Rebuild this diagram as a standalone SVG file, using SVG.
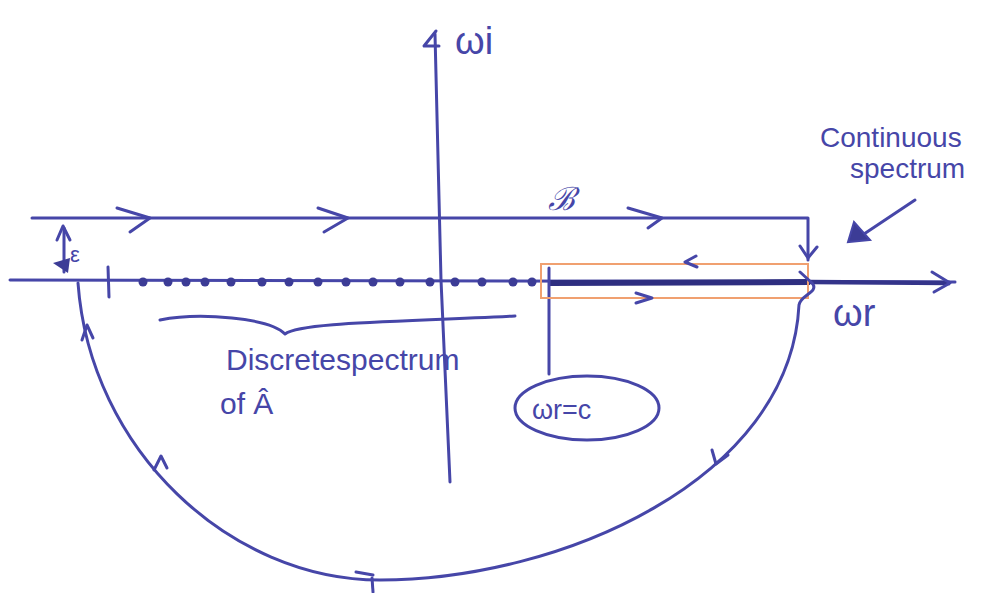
<svg xmlns="http://www.w3.org/2000/svg" width="981" height="593" viewBox="0 0 981 593">
<style>
.p{fill:none;stroke:#4646a8;stroke-width:3;stroke-linecap:round;stroke-linejoin:round}
.t{fill:#4646a8;font-family:"Liberation Sans",sans-serif}
.o{fill:none;stroke:#f0a070;stroke-width:2}
</style>
<rect width="981" height="593" fill="#fff"/>
<g id="axes">
<path class="p" d="M10,280 L955,282"/>
<path d="M550,283 L810,282" stroke="#2e2e80" stroke-width="6" fill="none"/>
<path d="M810,282 L950,283" stroke="#34348a" stroke-width="4.5" fill="none"/>
<path class="p" d="M932,272 L950,283 L934,292" stroke-width="4"/>
<path class="p" d="M435,34 L441,280 L450,482"/>
<path class="p" d="M436,31 L424,46 L439,46" />
<text class="t" x="455" y="54" font-size="38">ωi</text>
<text class="t" x="833" y="326" font-size="38">ωr</text>
</g>
<g id="dots" fill="#3c3c96">
<circle cx="143" cy="282" r="4.5"/><circle cx="168" cy="282" r="4.5"/><circle cx="186" cy="282" r="4.5"/>
<circle cx="205" cy="282" r="4.5"/><circle cx="231" cy="282" r="4.5"/><circle cx="262" cy="282" r="4.5"/>
<circle cx="289" cy="282" r="4.5"/><circle cx="318" cy="282" r="4.5"/><circle cx="346" cy="282" r="4.5"/>
<circle cx="373" cy="282" r="4.5"/><circle cx="400" cy="282" r="4.5"/><circle cx="430" cy="282" r="4.5"/>
<circle cx="455" cy="282" r="4.5"/><circle cx="482" cy="282" r="4.5"/><circle cx="513" cy="282" r="4.5"/>
<circle cx="532" cy="282" r="4.5"/>
</g>
<g id="ticks">
<path class="p" d="M108,267 L109,297"/>
<path class="p" d="M549,268 L549,374"/>
</g>
<g id="contour">
<path class="p" d="M32,218 L808,218 L808,260"/>
<path class="p" d="M800,246 L808,258 L817,247"/>
<path class="p" d="M117,208 L150,218 L130,232"/>
<path class="p" d="M318,208 L348,218 L324,232"/>
<path class="p" d="M628,208 L662,218 L648,228"/>
<rect class="o" x="541" y="264" width="267" height="34"/>
<path class="p" d="M696,256 L685,262 L697,267"/>
<path class="p" d="M636,293 L652,298 L636,303"/>
<path class="p" d="M78,283 C90,450 230,580 380,580 C560,580 790,480 799,305 C800,295 820,292 812,283 L800,272"/>
<path class="p" d="M82,340 L87,325 L93,338"/>
<path class="p" d="M154,470 L161,456 L167,468"/>
<path class="p" d="M356,572 L373,575"/>
<path class="p" d="M372,578 L373,592"/>
<path class="p" d="M712,450 L716,464 L728,455"/>
</g>
<g id="epsilon">
<path class="p" d="M64,228 L64,272"/>
<path class="p" d="M57,240 L63,226 L70,240"/>
<path d="M53,263 L70,258 L68,273 Z" fill="#3c3c96"/>
<text class="t" x="70" y="262" font-size="22">ε</text>
</g>
<g id="brace">
<path class="p" d="M160,320 C200,312 270,318 285,334 C300,322 400,322 515,316"/>
</g>
<g id="ellipse">
<ellipse class="p" cx="587" cy="408" rx="72" ry="32"/>
<text class="t" x="532" y="419" font-size="27">ωr=c</text>
</g>
<g id="labels">
<text class="t" x="226" y="370" font-size="30">Discretespectrum</text>
<text class="t" x="220" y="414" font-size="30">of Â</text>
<text class="t" x="548" y="210" font-size="32" font-style="italic">ℬ</text>
<text class="t" x="820" y="147" font-size="28">Continuous</text>
<text class="t" x="850" y="178" font-size="28">spectrum</text>
<path class="p" d="M915,200 L858,238"/>
<path d="M848,242 L854,222 L870,240 Z" fill="#3c3c96" stroke="#4646a8" stroke-width="2"/>
</g>
</svg>
